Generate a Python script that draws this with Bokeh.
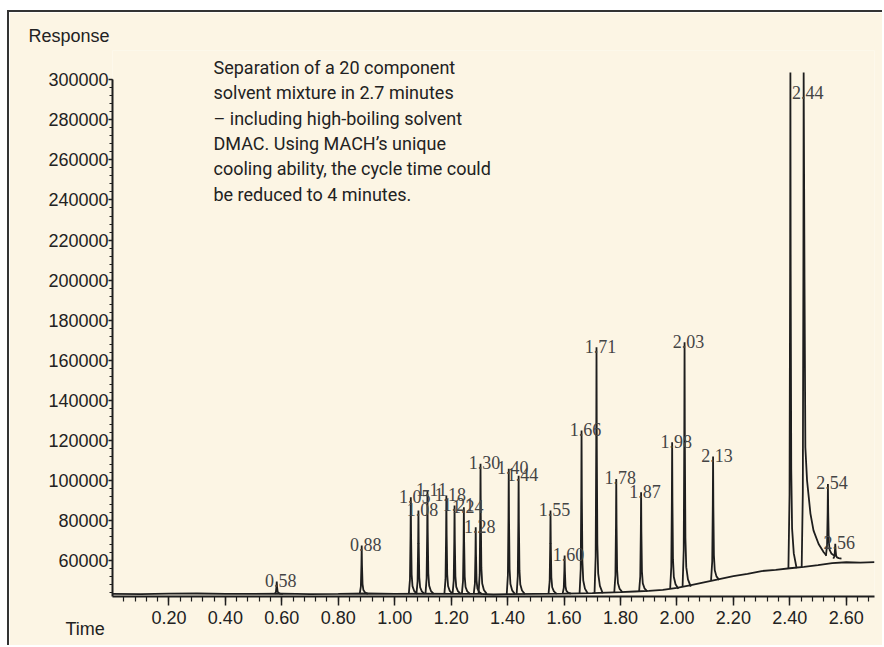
import numpy as np
from bokeh.plotting import figure
from bokeh.models import Label, FixedTicker, PrintfTickFormatter, ColumnDataSource, Range1d, Title
from bokeh.embed import file_html
from bokeh.resources import INLINE
from bokeh.core.properties import value

# ---------------- data ----------------
peak_rt = [0.582, 0.883, 1.057, 1.084, 1.116, 1.183, 1.212, 1.245, 1.287, 1.304,
           1.404, 1.439, 1.552, 1.602, 1.662, 1.715, 1.785, 1.873, 1.983, 2.027,
           2.128, 2.402, 2.449, 2.535, 2.561]
# the 2.40 / 2.44 peaks run off the scale: their visible top is given
peak_height = [49500, 67500, 91600, 85000, 95000, 92500, 87500, 86600, 76600, 108300,
               105800, 102400, 85000, 62500, 124900, 166500, 100800, 94100, 119100, 169000,
               111950, 303600, 303600, 98300, 68400]
peak_base = [43400, 43400, 43400, 43400, 43400, 43400, 43400, 43400, 43400, 43400,
             43300, 43300, 43400, 43500, 43600, 43700, 44200, 44700, 46000, 47000,
             50300, 56200, 56700, 62500, 61000]
peak_label = ["0.58", "0.88", "1.05", "1.08", "1.11", "1.18", "1.21", "1.24", "1.28", "1.30",
              "1.40", "1.44", "1.55", "1.60", "1.66", "1.71", "1.78", "1.87", "1.98", "2.03",
              "2.13", "", "2.44", "2.54", "2.56"]

# tail of the large 2.44 peak
tail_t = [2.452, 2.455, 2.461, 2.473, 2.484, 2.502, 2.520, 2.530]
tail_v = [200000, 116600, 100000, 83500, 75000, 68300, 64200, 62500]

# drifting baseline of the run
base_t = [0.00, 0.10, 0.20, 0.30, 0.40, 0.50, 0.60, 0.70, 0.80, 0.90, 1.00, 1.10, 1.20,
          1.30, 1.35, 1.40, 1.50, 1.60, 1.70, 1.80, 1.85, 1.90, 1.95, 2.00, 2.05, 2.10,
          2.15, 2.20, 2.25, 2.30, 2.35, 2.40, 2.45, 2.50, 2.55, 2.60, 2.65, 2.70]
base_v = [43400, 43300, 43500, 43600, 43400, 43400, 43500, 43300, 43400, 43600, 43400, 43500, 43400,
          43400, 43100, 43300, 43400, 43500, 43800, 44300, 44600, 44900, 45400, 46400, 47800, 49300,
          50800, 52300, 53400, 54800, 55400, 56200, 56900, 57800, 58800, 59200, 59000, 59300]

x_ticks = [0.20, 0.40, 0.60, 0.80, 1.00, 1.20, 1.40, 1.60, 1.80, 2.00, 2.20, 2.40, 2.60]
y_ticks = [60000, 80000, 100000, 120000, 140000, 160000, 180000, 200000, 220000,
           240000, 260000, 280000, 300000]

note_lines = ["Separation of a 20 component",
              "solvent mixture in 2.7 minutes",
              "\u2013 including high-boiling solvent",
              "DMAC. Using MACH\u2019s unique",
              "cooling ability, the cycle time could",
              "be reduced to 4 minutes."]

# ---------------- styling ----------------
BG = "#fcf5e4"
INK = "#1e1e1e"
TXT = "#222222"

# peak shape template (relative time offset, fraction of height)
shape_dt = [-0.007, -0.003, -0.001, 0.0, 0.001, 0.003, 0.006, 0.012, 0.022]
shape_f = [0.0, 0.15, 0.6, 1.0, 0.6, 0.2, 0.08, 0.03, 0.0]

W, H = 875, 635
p = figure(width=W, height=H, output_backend="svg", toolbar_location=None,
           x_range=Range1d(0, 2.70), y_range=Range1d(42100, 314600),
           min_border_left=103, min_border_right=10, min_border_top=38, min_border_bottom=51)
p.styles = {"margin-left": "7px", "margin-top": "10px",
            "border-top": "2px solid #333333", "border-left": "2px solid #333333"}
p.background_fill_color = BG
p.border_fill_color = BG
p.outline_line_color = None
p.xgrid.visible = False
p.ygrid.visible = False

# baseline trace
p.line(base_t, base_v, line_color=INK, line_width=1.8)

# peaks
xs, ys = [], []
for t, h, b, lab in zip(peak_rt, peak_height, peak_base, peak_label):
    px, py = [], []
    for dt, f in zip(shape_dt, shape_f):
        if lab == "2.44" and dt > 0:
            continue
        px.append(t + dt)
        py.append(b + f * (h - b))
    if lab == "2.44":
        px += tail_t
        py += tail_v
    xs.append(px)
    ys.append(py)
p.multi_line(xs, ys, line_color=INK, line_width=1.8)

# peak labels
lab_src = ColumnDataSource(dict(x=peak_rt, y=list(np.minimum(peak_height, 293200)), text=peak_label))
p.text(x="x", y="y", text="text", source=lab_src, text_font=value("Liberation Serif"),
       text_font_size="18px", text_color="#444444", text_align="center",
       text_baseline="alphabetic", x_offset=4, y_offset=-1)

# axes
for ax in (p.xaxis[0], p.yaxis[0]):
    ax.axis_line_color = INK
    ax.axis_line_width = 2
    ax.major_tick_line_color = INK
    ax.minor_tick_line_color = INK
    ax.major_tick_line_width = 1.5
    ax.minor_tick_line_width = 1.2
    ax.major_tick_in = 0
    ax.minor_tick_in = 0
    ax.major_label_text_font = "Liberation Sans"
    ax.major_label_text_font_size = "18px"
    ax.major_label_text_color = TXT

p.xaxis.ticker = FixedTicker(ticks=x_ticks, minor_ticks=list(np.round(np.arange(0.04, 2.70, 0.04), 2)))
p.xaxis.formatter = PrintfTickFormatter(format="%.2f")
p.xaxis.major_tick_out = 9
p.xaxis.minor_tick_out = 5
p.xaxis.major_label_standoff = 5

p.yaxis.ticker = FixedTicker(ticks=y_ticks, minor_ticks=list(np.arange(44000, 300001, 4000)))
p.yaxis.formatter = PrintfTickFormatter(format="%d")
p.yaxis.major_tick_out = 4
p.yaxis.minor_tick_out = 3
p.yaxis.major_label_standoff = 0
p.yaxis.bounds = (42100, 300000)

# axis titles
p.title.text = "Response"
p.title.align = "left"
p.title.offset = -84
p.title.standoff = 10
p.title.text_font = "Liberation Sans"
p.title.text_font_size = "18px"
p.title.text_font_style = "normal"
p.title.text_color = TXT
p.add_layout(Title(text="Time", align="left", offset=-47, standoff=-19,
                   text_font="Liberation Sans", text_font_size="18px",
                   text_font_style="normal", text_color=TXT), "below")

# note block
for i, line in enumerate(note_lines):
    p.add_layout(Label(x=202, y=53 + 25.3 * i, x_units="canvas", y_units="canvas", text=line,
                       text_font="Roboto", text_font_size="18px", text_color=TXT,
                       text_baseline="middle", text_align="left"))

open("out.html", "w").write(file_html(p, INLINE))
